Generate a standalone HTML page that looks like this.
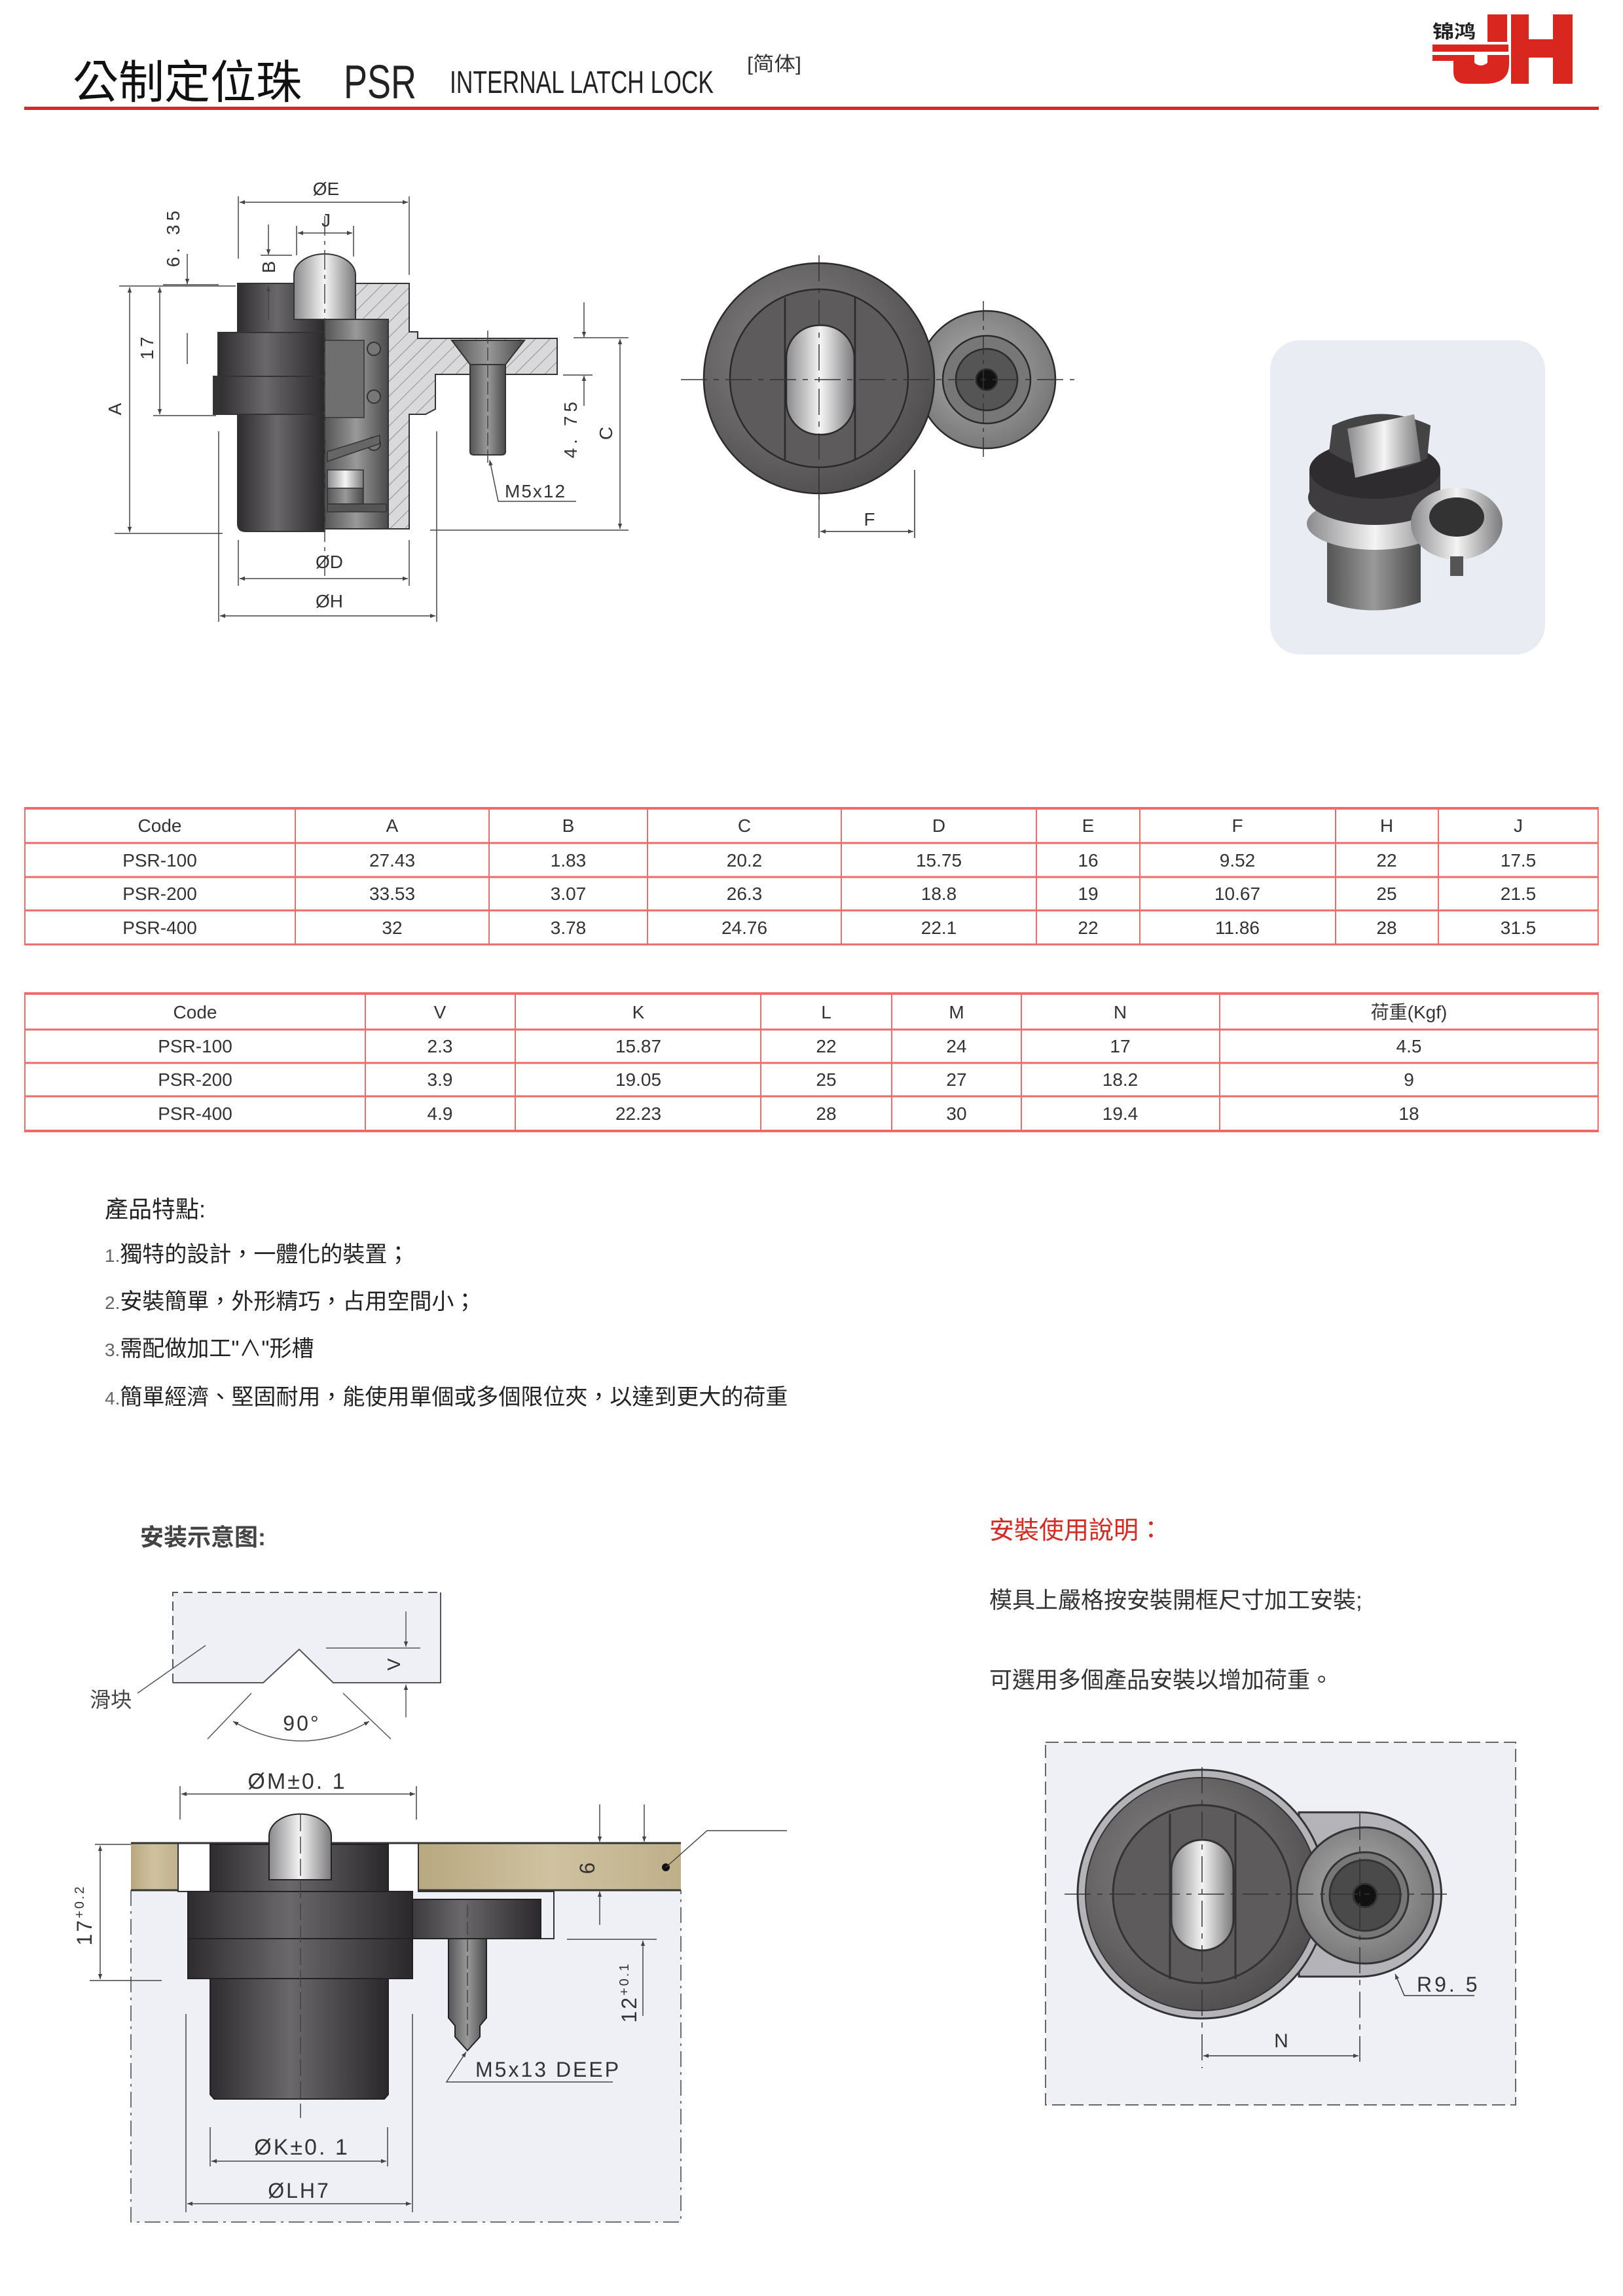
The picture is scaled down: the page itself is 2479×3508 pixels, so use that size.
<!DOCTYPE html>
<html><head><meta charset="utf-8"><style>
html,body{margin:0;padding:0;background:#fff;}
svg{display:block;}
</style></head><body>
<svg xmlns="http://www.w3.org/2000/svg" width="2479" height="3508" viewBox="0 0 2479 3508" font-family="'Liberation Sans','Noto Sans CJK TC',sans-serif">
<defs>
<linearGradient id="gDark" x1="0" x2="1" y1="0" y2="0">
<stop offset="0" stop-color="#2e2c2e"/><stop offset="0.45" stop-color="#6a686a"/><stop offset="0.6" stop-color="#585658"/><stop offset="1" stop-color="#2a282a"/></linearGradient>
<linearGradient id="gLight" x1="0" x2="1" y1="0" y2="0">
<stop offset="0" stop-color="#8a8a8c"/><stop offset="0.5" stop-color="#f4f4f4"/><stop offset="1" stop-color="#7a7a7c"/></linearGradient>
<linearGradient id="gMid" x1="0" x2="1" y1="0" y2="0">
<stop offset="0" stop-color="#555"/><stop offset="0.5" stop-color="#999"/><stop offset="1" stop-color="#4a4a4a"/></linearGradient>
<linearGradient id="gTan" x1="0" x2="1" y1="0" y2="0">
<stop offset="0" stop-color="#b8a880"/><stop offset="0.5" stop-color="#cfc2a0"/><stop offset="1" stop-color="#bfb08a"/></linearGradient>
<radialGradient id="gDisc" cx="0.4" cy="0.4" r="0.7">
<stop offset="0" stop-color="#8a8888"/><stop offset="1" stop-color="#4a4848"/></radialGradient>
<radialGradient id="gDisc2" cx="0.45" cy="0.45" r="0.7">
<stop offset="0" stop-color="#b0b0b0"/><stop offset="1" stop-color="#6a6a6a"/></radialGradient>
<pattern id="hatch" width="16" height="16" patternUnits="userSpaceOnUse" patternTransform="rotate(45)">
<rect width="16" height="16" fill="#d9d9db"/><line x1="0" y1="0" x2="0" y2="16" stroke="#777" stroke-width="1.5"/></pattern>
<marker id="ar" viewBox="0 0 10 10" refX="10" refY="5" markerWidth="12" markerHeight="8" orient="auto-start-reverse" markerUnits="userSpaceOnUse">
<path d="M0,1 L10,5 L0,9 Z" fill="#444"/></marker>
</defs>

<!-- HEADER -->
<text x="111" y="150" font-size="70" fill="#111">公制定位珠</text>
<text x="525" y="150" font-size="72" fill="#222" textLength="111" lengthAdjust="spacingAndGlyphs">PSR</text>
<text x="687" y="142" font-size="48" fill="#222" textLength="403" lengthAdjust="spacingAndGlyphs">INTERNAL LATCH LOCK</text>
<text x="1141" y="108" font-size="30" fill="#333" textLength="83" lengthAdjust="spacingAndGlyphs">[简体]</text>
<rect x="37" y="163" width="2405" height="5" fill="#d42a25"/>
<text x="2188" y="58" font-size="28" font-weight="bold" fill="#222" textLength="66" lengthAdjust="spacingAndGlyphs">锦鸿</text>
<g fill="#d9261f">
<rect x="2272" y="22" width="30" height="42"/>
<rect x="2188" y="68" width="116" height="11"/>
<path d="M2188,84 H2252 V96 Q2262,104 2272,96 V84 H2305 V98 Q2305,128 2268,128 H2240 Q2220,128 2220,110 V93 H2188 Z"/>
<rect x="2308" y="22" width="27" height="106"/>
<rect x="2335" y="60" width="37" height="28"/>
<rect x="2372" y="22" width="30" height="106"/>
</g>

<!-- SIDE VIEW -->
<g stroke="#333" stroke-width="2">
<path d="M363,433 H496 V812 H375 Q363,812 363,800 Z" fill="url(#gDark)"/>
<rect x="333" y="508" width="163" height="125" fill="url(#gDark)"/>
<line x1="333" y1="575" x2="496" y2="575"/>
<rect x="326" y="575" width="10" height="58" fill="#333"/>
<rect x="496" y="488" width="97" height="320" fill="url(#gMid)"/>
<rect x="496" y="520" width="60" height="118" fill="#6f6f70" stroke-width="1.5"/>
<circle cx="571" cy="533" r="10" fill="#777"/>
<circle cx="571" cy="606" r="10" fill="#777"/>
<circle cx="571" cy="678" r="10" fill="#777"/>
<path d="M500,690 L580,665 L580,678 L500,705 Z" fill="#666" stroke-width="1.5"/>
<rect x="500" y="718" width="55" height="28" fill="url(#gLight)" stroke-width="1.5"/>
<rect x="500" y="746" width="55" height="24" fill="url(#gMid)" stroke-width="1.5"/>
<rect x="500" y="770" width="90" height="12" fill="#555" stroke-width="1.5"/>
<path d="M449,488 V420 A47,32 0 0 1 543,420 V488 Z" fill="url(#gLight)"/>
<path d="M543,433 H625 V507 H638 V517 H851 V572 H665 V625 L650,633 H625 V808 H593 V488 H543 Z" fill="url(#hatch)"/>
<path d="M690,520 H801 L772,557 H718 Z" fill="url(#gMid)"/>
<path d="M718,557 H772 V690 Q772,695 766,695 H724 Q718,695 718,690 Z" fill="url(#gMid)"/>
</g>
<g stroke="#444" stroke-width="1.5" fill="none">
<line x1="496" y1="330" x2="496" y2="880" stroke-dasharray="30,8,6,8"/>
<line x1="745" y1="505" x2="745" y2="710" stroke-dasharray="20,6"/>
<line x1="364" y1="300" x2="364" y2="395"/><line x1="625" y1="300" x2="625" y2="420"/>
<line x1="453" y1="345" x2="453" y2="390"/><line x1="540" y1="345" x2="540" y2="392"/>
<line x1="249" y1="435" x2="334" y2="435"/><line x1="398" y1="390" x2="446" y2="390"/>
<line x1="182" y1="437" x2="360" y2="437"/><line x1="175" y1="815" x2="340" y2="815"/>
<line x1="234" y1="635" x2="330" y2="635"/>
<line x1="876" y1="516" x2="960" y2="516"/><line x1="657" y1="810" x2="960" y2="810"/>
<line x1="860" y1="573" x2="905" y2="573"/>
<line x1="364" y1="825" x2="364" y2="895"/><line x1="625" y1="825" x2="625" y2="895"/>
<line x1="334" y1="659" x2="334" y2="950"/><line x1="667" y1="659" x2="667" y2="950"/>
<line x1="366" y1="309" x2="623" y2="309" marker-start="url(#ar)" marker-end="url(#ar)"/>
<line x1="455" y1="356" x2="538" y2="356" marker-start="url(#ar)" marker-end="url(#ar)"/>
<line x1="286" y1="388" x2="286" y2="434" marker-end="url(#ar)"/>
<line x1="410" y1="343" x2="410" y2="389" marker-end="url(#ar)"/>
<line x1="410" y1="489" x2="410" y2="437" marker-end="url(#ar)"/>
<line x1="198" y1="439" x2="198" y2="813" marker-start="url(#ar)" marker-end="url(#ar)"/>
<line x1="244" y1="439" x2="244" y2="633" marker-start="url(#ar)" marker-end="url(#ar)"/>
<line x1="286" y1="509" x2="286" y2="556"/>
<line x1="892" y1="462" x2="892" y2="515" marker-end="url(#ar)"/>
<line x1="892" y1="620" x2="892" y2="574" marker-end="url(#ar)"/>
<line x1="947" y1="518" x2="947" y2="808" marker-start="url(#ar)" marker-end="url(#ar)"/>
<line x1="366" y1="884" x2="623" y2="884" marker-start="url(#ar)" marker-end="url(#ar)"/>
<line x1="336" y1="941" x2="665" y2="941" marker-start="url(#ar)" marker-end="url(#ar)"/>
<path d="M880,766 H761 L748,703" marker-end="url(#ar)"/>
</g>
<g fill="#333" font-size="28">
<text x="498" y="298" text-anchor="middle">ØE</text>
<text x="498" y="346" text-anchor="middle">J</text>
<text transform="translate(274,362) rotate(-90)" text-anchor="middle" letter-spacing="6">6. 35</text>
<text transform="translate(420,408) rotate(-90)" text-anchor="middle">B</text>
<text transform="translate(185,625) rotate(-90)" text-anchor="middle">A</text>
<text transform="translate(234,530) rotate(-90)" text-anchor="middle" letter-spacing="4">17</text>
<text transform="translate(881,654) rotate(-90)" text-anchor="middle" letter-spacing="6">4. 75</text>
<text transform="translate(935,662) rotate(-90)" text-anchor="middle">C</text>
<text x="771" y="760" letter-spacing="2">M5x12</text>
<text x="503" y="868" text-anchor="middle">ØD</text>
<text x="503" y="928" text-anchor="middle">ØH</text>
</g>

<!-- TOP VIEW -->
<g stroke="#2a2a2a" stroke-width="2.5">
<circle cx="1507" cy="580" r="105" fill="url(#gDisc2)"/>
<circle cx="1507" cy="580" r="67" fill="#777"/>
<circle cx="1507" cy="580" r="47" fill="#555"/>
<circle cx="1507" cy="580" r="16" fill="#111"/>
<circle cx="1251" cy="578" r="176" fill="url(#gDisc)"/>
<circle cx="1251" cy="578" r="136" fill="#5d5b5c"/>
<line x1="1199" y1="455" x2="1199" y2="702"/><line x1="1306" y1="455" x2="1306" y2="702"/>
<rect x="1201" y="497" width="104" height="167" rx="50" fill="url(#gLight)"/>
</g>
<g stroke="#333" stroke-width="1.5" fill="none">
<line x1="1040" y1="580" x2="1641" y2="580" stroke-dasharray="40,10,8,10"/>
<line x1="1251" y1="390" x2="1251" y2="763" stroke-dasharray="40,10,8,10"/>
<line x1="1502" y1="460" x2="1502" y2="700" stroke-dasharray="30,8,6,8"/>
<line x1="1251" y1="718" x2="1251" y2="822"/><line x1="1397" y1="718" x2="1397" y2="822"/>
<line x1="1253" y1="812" x2="1395" y2="812" marker-start="url(#ar)" marker-end="url(#ar)"/>
</g>
<text x="1328" y="803" font-size="28" fill="#333" text-anchor="middle">F</text>

<!-- PHOTO -->
<rect x="1940" y="520" width="420" height="480" rx="45" fill="#e9ecf3"/>
<g>
<path d="M2027,817 H2170 V920 Q2098,945 2027,920 Z" fill="url(#gMid)"/>
<ellipse cx="2100" cy="800" rx="104" ry="40" fill="url(#gLight)"/>
<ellipse cx="2100" cy="760" rx="102" ry="42" fill="#3e3c3e"/>
<rect x="2000" y="720" width="200" height="50" fill="#3e3c3e"/>
<ellipse cx="2100" cy="718" rx="100" ry="44" fill="#2e2c2e"/>
<path d="M2030,690 L2035,650 Q2110,615 2185,650 L2180,700 Q2110,740 2030,690 Z" fill="#444"/>
<path d="M2058,655 L2160,633 L2170,705 L2070,730 Z" fill="url(#gLight)"/>
<ellipse cx="2225" cy="800" rx="70" ry="55" fill="url(#gLight)"/>
<ellipse cx="2225" cy="790" rx="42" ry="30" fill="#333"/>
<rect x="2215" y="850" width="20" height="30" fill="#555"/>
</g>

<!-- TABLES -->
<g stroke="#ee6b6b" fill="none">
<line x1="37" y1="1235" x2="2442" y2="1235" stroke-width="4"/>
<line x1="37" y1="1288" x2="2442" y2="1288" stroke-width="3"/>
<line x1="37" y1="1340" x2="2442" y2="1340" stroke-width="3"/>
<line x1="37" y1="1391" x2="2442" y2="1391" stroke-width="3"/>
<line x1="37" y1="1443" x2="2442" y2="1443" stroke-width="3"/>
<g stroke-width="2">
<line x1="38" y1="1235" x2="38" y2="1443"/><line x1="451" y1="1235" x2="451" y2="1443"/><line x1="747" y1="1235" x2="747" y2="1443"/><line x1="989" y1="1235" x2="989" y2="1443"/><line x1="1285" y1="1235" x2="1285" y2="1443"/><line x1="1583" y1="1235" x2="1583" y2="1443"/><line x1="1741" y1="1235" x2="1741" y2="1443"/><line x1="2040" y1="1235" x2="2040" y2="1443"/><line x1="2197" y1="1235" x2="2197" y2="1443"/><line x1="2441" y1="1235" x2="2441" y2="1443"/>
</g>
<line x1="37" y1="1518" x2="2442" y2="1518" stroke-width="4"/>
<line x1="37" y1="1573" x2="2442" y2="1573" stroke-width="3"/>
<line x1="37" y1="1624" x2="2442" y2="1624" stroke-width="3"/>
<line x1="37" y1="1675" x2="2442" y2="1675" stroke-width="3"/>
<line x1="37" y1="1728" x2="2442" y2="1728" stroke-width="4"/>
<g stroke-width="2">
<line x1="38" y1="1518" x2="38" y2="1728"/><line x1="558" y1="1518" x2="558" y2="1728"/><line x1="787" y1="1518" x2="787" y2="1728"/><line x1="1162" y1="1518" x2="1162" y2="1728"/><line x1="1362" y1="1518" x2="1362" y2="1728"/><line x1="1560" y1="1518" x2="1560" y2="1728"/><line x1="1863" y1="1518" x2="1863" y2="1728"/><line x1="2441" y1="1518" x2="2441" y2="1728"/>
</g>
</g>
<g font-size="28" fill="#333" text-anchor="middle">
<g transform="translate(0,1271)"><text x="244">Code</text><text x="599">A</text><text x="868">B</text><text x="1137">C</text><text x="1434">D</text><text x="1662">E</text><text x="1890">F</text><text x="2118">H</text><text x="2319">J</text></g>
<g transform="translate(0,1324)"><text x="244">PSR-100</text><text x="599">27.43</text><text x="868">1.83</text><text x="1137">20.2</text><text x="1434">15.75</text><text x="1662">16</text><text x="1890">9.52</text><text x="2118">22</text><text x="2319">17.5</text></g>
<g transform="translate(0,1375)"><text x="244">PSR-200</text><text x="599">33.53</text><text x="868">3.07</text><text x="1137">26.3</text><text x="1434">18.8</text><text x="1662">19</text><text x="1890">10.67</text><text x="2118">25</text><text x="2319">21.5</text></g>
<g transform="translate(0,1427)"><text x="244">PSR-400</text><text x="599">32</text><text x="868">3.78</text><text x="1137">24.76</text><text x="1434">22.1</text><text x="1662">22</text><text x="1890">11.86</text><text x="2118">28</text><text x="2319">31.5</text></g>
<g transform="translate(0,1556)"><text x="298">Code</text><text x="672">V</text><text x="975">K</text><text x="1262">L</text><text x="1461">M</text><text x="1711">N</text><text x="2152">荷重(Kgf)</text></g>
<g transform="translate(0,1608)"><text x="298">PSR-100</text><text x="672">2.3</text><text x="975">15.87</text><text x="1262">22</text><text x="1461">24</text><text x="1711">17</text><text x="2152">4.5</text></g>
<g transform="translate(0,1659)"><text x="298">PSR-200</text><text x="672">3.9</text><text x="975">19.05</text><text x="1262">25</text><text x="1461">27</text><text x="1711">18.2</text><text x="2152">9</text></g>
<g transform="translate(0,1711)"><text x="298">PSR-400</text><text x="672">4.9</text><text x="975">22.23</text><text x="1262">28</text><text x="1461">30</text><text x="1711">19.4</text><text x="2152">18</text></g>
</g>

<!-- FEATURES -->
<g fill="#222" font-size="34">
<text x="160" y="1860" font-size="36">產品特點:</text>
<text x="160" y="1928"><tspan fill="#666" font-size="28">1.</tspan>獨特的設計，一體化的裝置；</text>
<text x="160" y="2000"><tspan fill="#666" font-size="28">2.</tspan>安裝簡單，外形精巧，占用空間小；</text>
<text x="160" y="2072"><tspan fill="#666" font-size="28">3.</tspan>需配做加工"∧"形槽</text>
<text x="160" y="2146"><tspan fill="#666" font-size="28">4.</tspan>簡單經濟、堅固耐用，能使用單個或多個限位夾，以達到更大的荷重</text>
</g>
<text x="1511" y="2351" font-size="38" fill="#d42a22">安裝使用說明：</text>
<text x="1511" y="2457" font-size="35" fill="#333">模具上嚴格按安裝開框尺寸加工安裝;</text>
<text x="1511" y="2579" font-size="35" fill="#333">可選用多個產品安裝以增加荷重。</text>

<!-- INSTALL DIAGRAM -->
<text x="214" y="2361" font-size="36" font-weight="bold" fill="#444">安装示意图:</text>
<rect x="200" y="2888" width="840" height="507" fill="#eef0f5"/>
<path d="M264,2433 H673 V2571 H509 L457,2520 L402,2571 H264 Z" fill="#eef0f5"/>
<g stroke="#555" stroke-width="2" fill="none">
<path d="M264,2571 V2433 H673" stroke-dasharray="14,8"/>
<path d="M264,2571 H402 L457,2520 L509,2571 H673 V2433"/>
<line x1="314" y1="2514" x2="210" y2="2587" stroke-width="1.5"/>
<line x1="498" y1="2518" x2="642" y2="2518" stroke-width="1.5"/>
<line x1="620" y1="2462" x2="620" y2="2516" stroke-width="1.5" marker-end="url(#ar)"/>
<line x1="620" y1="2624" x2="620" y2="2574" stroke-width="1.5" marker-end="url(#ar)"/>
<line x1="384" y1="2587" x2="317" y2="2657" stroke-width="1.5"/>
<line x1="524" y1="2587" x2="597" y2="2657" stroke-width="1.5"/>
<path d="M356,2630 Q461,2690 564,2630" stroke-width="1.5" marker-start="url(#ar)" marker-end="url(#ar)"/>
</g>
<text x="137" y="2608" font-size="32" fill="#444">滑块</text>
<text transform="translate(611,2543) rotate(-90)" font-size="28" fill="#333" text-anchor="middle">V</text>
<text x="461" y="2644" font-size="32" fill="#333" text-anchor="middle" letter-spacing="3">90°</text>

<g stroke="#444" stroke-width="1.5" fill="none">
<line x1="275" y1="2729" x2="275" y2="2780"/><line x1="636" y1="2729" x2="636" y2="2780"/>
<line x1="277" y1="2741" x2="634" y2="2741" marker-start="url(#ar)" marker-end="url(#ar)"/>
</g>
<text x="454" y="2733" font-size="34" fill="#333" text-anchor="middle" letter-spacing="3">ØM±0. 1</text>
<rect x="200" y="2816" width="72" height="72" fill="url(#gTan)"/>
<rect x="639" y="2816" width="401" height="72" fill="url(#gTan)"/>
<line x1="200" y1="2816" x2="1040" y2="2816" stroke="#333" stroke-width="3"/>
<line x1="200" y1="2888" x2="272" y2="2888" stroke="#333" stroke-width="3"/>
<line x1="639" y1="2888" x2="1040" y2="2888" stroke="#333" stroke-width="3"/>
<path d="M272,2816 V2890 H287 M639,2816 V2890 H846 V2962 H826 M593,2816 H639" stroke="#333" stroke-width="2" fill="none"/>
<circle cx="1017" cy="2853" r="6" fill="#111"/>
<g stroke="#222" stroke-width="2">
<path d="M411,2872 V2805 A47,33 0 0 1 506,2805 V2872 Z" fill="url(#gLight)"/>
<path d="M321,2818 H411 V2872 H506 V2818 H593 V2890 H321 Z" fill="url(#gDark)"/>
<rect x="607" y="2902" width="219" height="60" fill="url(#gDark)"/>
<rect x="287" y="2890" width="343" height="133" fill="url(#gDark)"/>
<line x1="287" y1="2962" x2="630" y2="2962"/>
<path d="M321,3023 H593 V3200 L587,3207 H327 L321,3200 Z" fill="url(#gDark)"/>
<path d="M685,2962 H743 V3083 L733,3095 V3112 L714,3133 L695,3112 V3095 L685,3083 Z" fill="url(#gMid)"/>
</g>
<g stroke="#444" stroke-width="1.5" fill="none">
<line x1="459" y1="2772" x2="459" y2="3236" stroke-dasharray="26,8"/>
<line x1="714" y1="2910" x2="714" y2="3110" stroke-dasharray="20,6"/>
<path d="M200,2888 V3395 H1040 V2888" stroke-dasharray="24,8,4,8"/>
<line x1="284" y1="3077" x2="284" y2="3380"/><line x1="630" y1="3077" x2="630" y2="3380"/>
<line x1="321" y1="3250" x2="321" y2="3310"/><line x1="592" y1="3250" x2="592" y2="3310"/>
<line x1="323" y1="3302" x2="590" y2="3302" marker-start="url(#ar)" marker-end="url(#ar)"/>
<line x1="286" y1="3367" x2="628" y2="3367" marker-start="url(#ar)" marker-end="url(#ar)"/>
<line x1="145" y1="2818" x2="200" y2="2818"/><line x1="137" y1="3026" x2="247" y2="3026"/>
<line x1="153" y1="2820" x2="153" y2="3024" marker-start="url(#ar)" marker-end="url(#ar)"/>
<line x1="916" y1="2757" x2="916" y2="2814" marker-end="url(#ar)"/>
<line x1="984" y1="2757" x2="984" y2="2814" marker-end="url(#ar)"/>
<line x1="916" y1="2941" x2="916" y2="2890" marker-end="url(#ar)"/>
<line x1="866" y1="2963" x2="1003" y2="2963"/>
<line x1="982" y1="3080" x2="982" y2="2965" marker-end="url(#ar)"/>
<path d="M1017,2853 L1080,2797 H1202" />
<path d="M936,3181 H682 L712,3135" marker-end="url(#ar)"/>
</g>
<g fill="#333" font-size="32" letter-spacing="3">
<text transform="translate(908,2853) rotate(-90)" text-anchor="middle">6</text>
<text transform="translate(140,2926) rotate(-90)" text-anchor="middle">17<tspan font-size="20" dy="-12">+0.2</tspan></text>
<text transform="translate(972,3044) rotate(-90)" text-anchor="middle">12<tspan font-size="20" dy="-12">+0.1</tspan></text>
<text x="726" y="3173" font-size="32">M5x13 DEEP</text>
<text x="461" y="3292" text-anchor="middle" font-size="34">ØK±0. 1</text>
<text x="457" y="3358" text-anchor="middle">ØLH7</text>
</g>

<!-- TOP VIEW INSTALL -->
<rect x="1597" y="2662" width="718" height="554" fill="#eef0f5" stroke="#666" stroke-width="2" stroke-dasharray="20,8"/>
<g stroke="#333" stroke-width="3">
<path d="M1984,2769 H2077 A124,125 0 0 1 2077,3020 H1984 Z" fill="#b4b4b8"/>
<circle cx="1836" cy="2894" r="190" fill="#b4b4b8"/>
<circle cx="1836" cy="2894" r="178" fill="url(#gDisc)" stroke-width="2"/>
<circle cx="1836" cy="2894" r="136" fill="#5d5b5c"/>
<line x1="1787" y1="2771" x2="1787" y2="3024"/><line x1="1887" y1="2771" x2="1887" y2="3024"/>
<rect x="1789" y="2811" width="95" height="169" rx="47" fill="url(#gLight)"/>
<circle cx="2085" cy="2896" r="104" fill="url(#gDisc2)"/>
<circle cx="2085" cy="2896" r="66" fill="#777"/>
<circle cx="2085" cy="2896" r="54" fill="#4a4a4a"/>
<circle cx="2085" cy="2896" r="18" fill="#111"/>
</g>
<g stroke="#333" stroke-width="1.5" fill="none">
<line x1="1626" y1="2894" x2="2220" y2="2894" stroke-dasharray="40,10,8,10"/>
<line x1="1836" y1="2700" x2="1836" y2="3160" stroke-dasharray="40,10,8,10"/>
<line x1="2077" y1="2771" x2="2077" y2="3150" stroke-dasharray="40,10,8,10"/>
<line x1="1838" y1="3141" x2="2075" y2="3141" marker-start="url(#ar)" marker-end="url(#ar)"/>
<path d="M2252,3049 H2145 L2131,3016" marker-end="url(#ar)"/>
</g>
<text x="1957" y="3128" font-size="30" fill="#333" text-anchor="middle">N</text>
<text x="2164" y="3043" font-size="32" fill="#333" letter-spacing="4">R9. 5</text>
</svg>
</body></html>
